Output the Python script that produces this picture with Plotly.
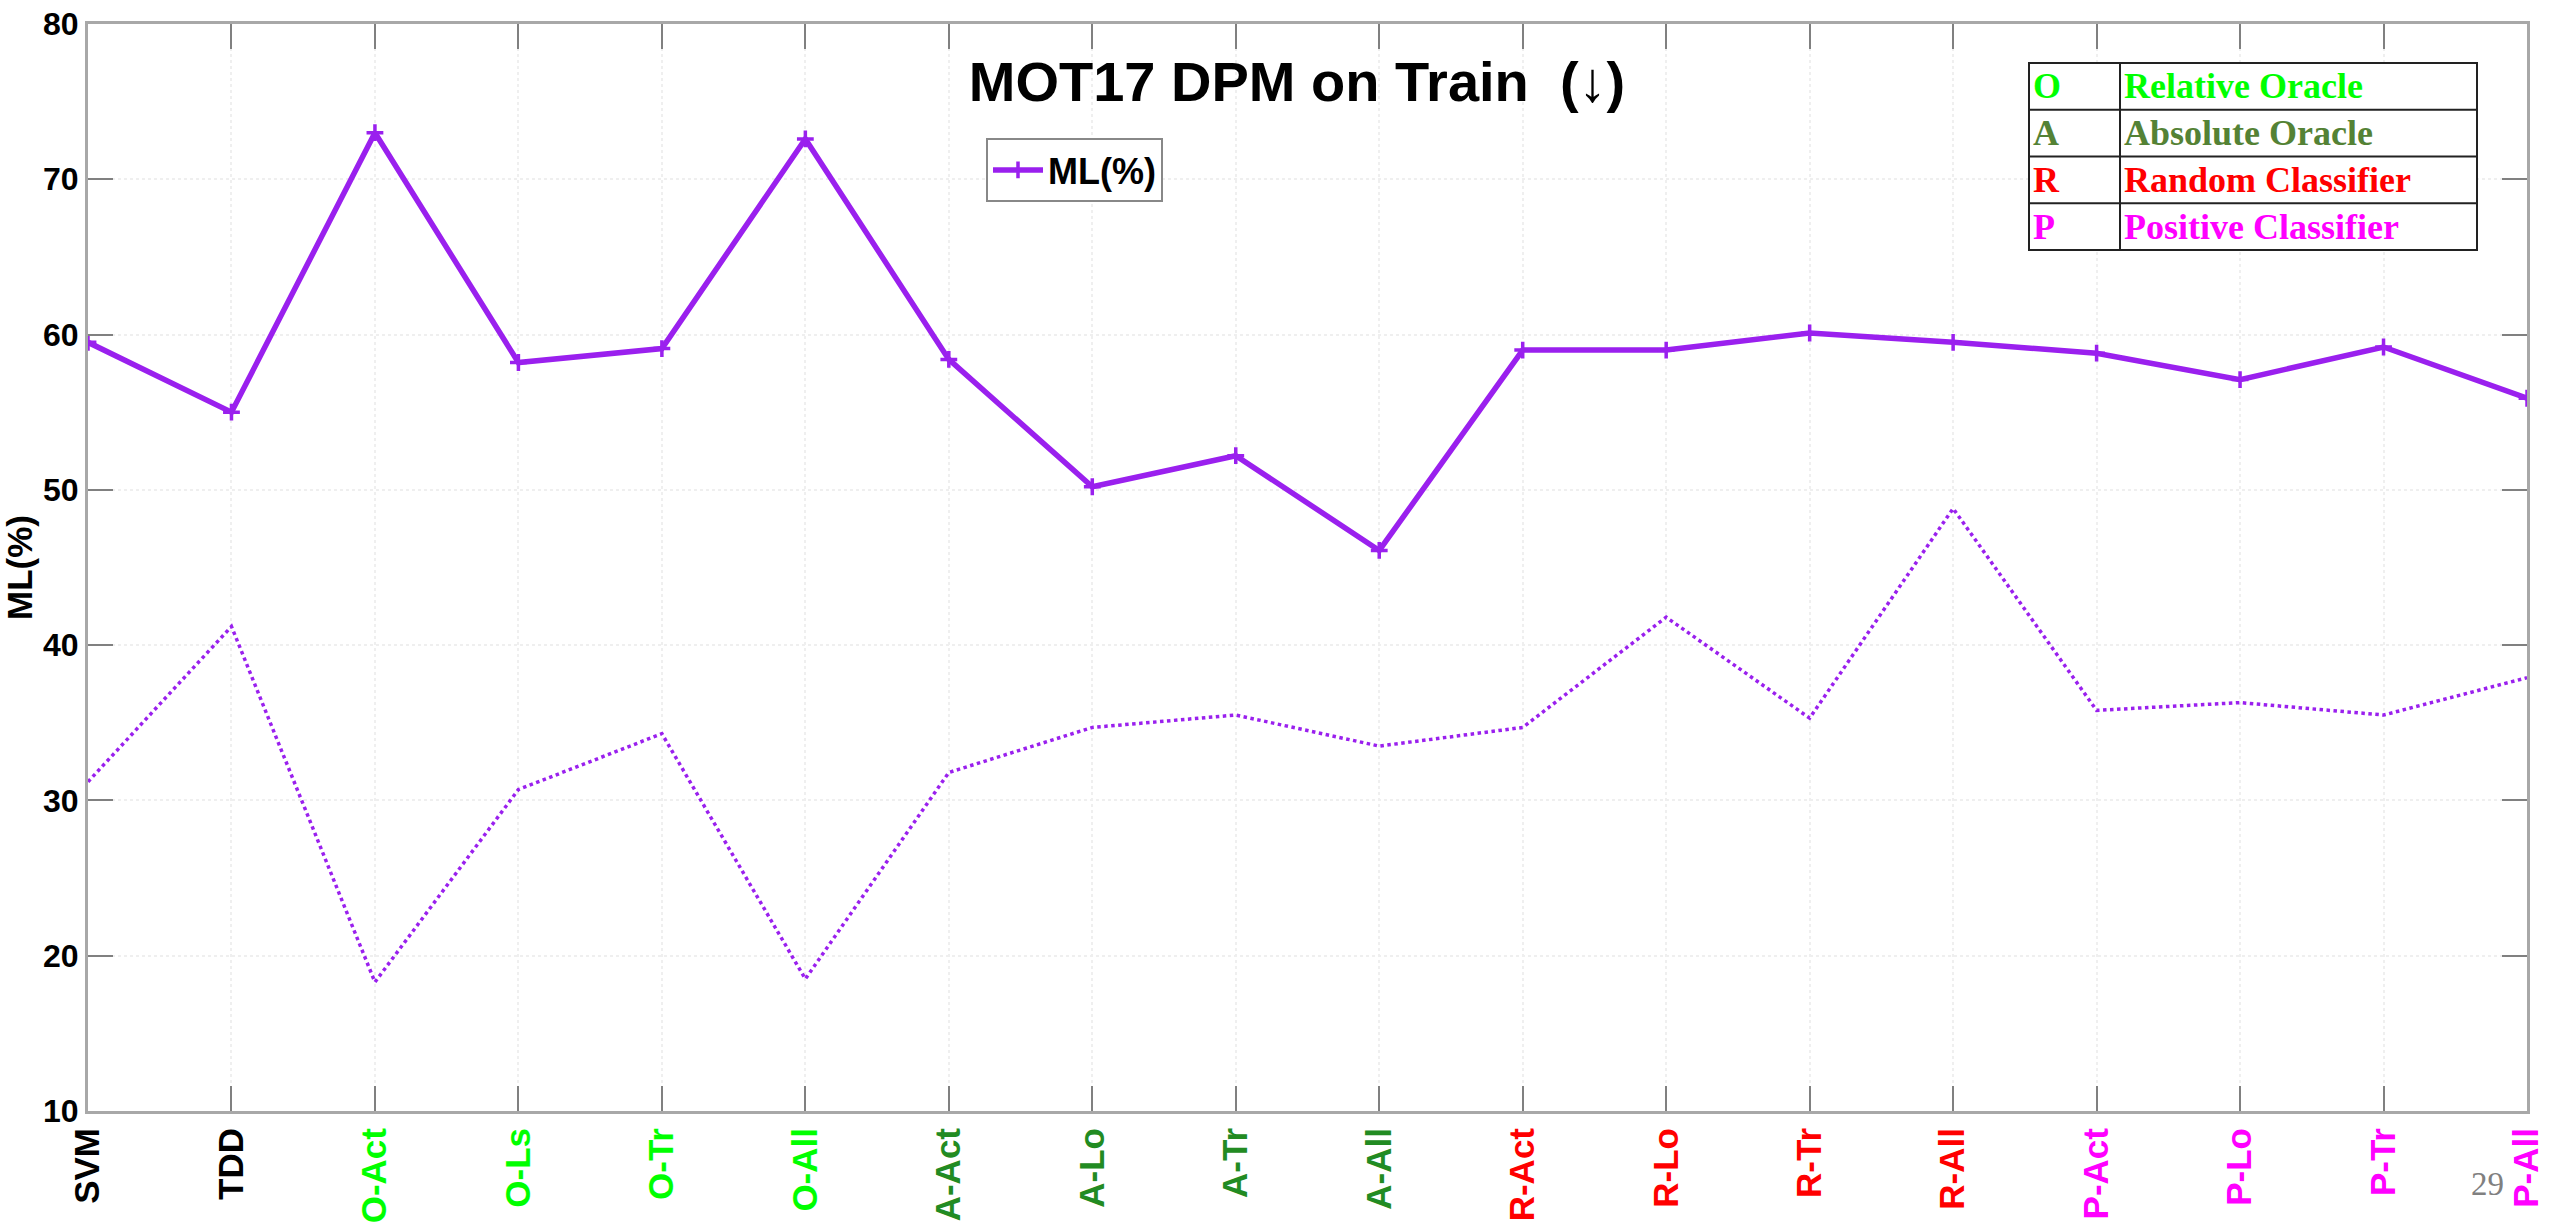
import plotly.graph_objects as go

# ---------------- data ----------------
categories = ["SVM", "TDD", "O-Act", "O-Ls", "O-Tr", "O-All", "A-Act", "A-Lo", "A-Tr",
              "A-All", "R-Act", "R-Lo", "R-Tr", "R-All", "P-Act", "P-Lo", "P-Tr", "P-All"]
category_colors = ["#000000", "#000000"] + ["#00ff00"] * 4 + ["#228b22"] * 4 + \
                  ["#ff0000"] * 4 + ["#ff00ff"] * 4
ml_solid = [59.5, 55.0, 73.0, 58.2, 59.1, 72.6, 58.4, 50.2, 52.2, 46.1,
            59.0, 59.0, 60.1, 59.5, 58.8, 57.1, 59.2, 55.9]
ml_dotted = [31.2, 41.2, 18.3, 30.7, 34.3, 18.5, 31.8, 34.7, 35.5, 33.5,
             34.7, 41.8, 35.3, 48.8, 35.8, 36.3, 35.5, 37.9]
y_ticks = [10, 20, 30, 40, 50, 60, 70, 80]

table_keys = ["O", "A", "R", "P"]
table_names = ["Relative Oracle", "Absolute Oracle", "Random Classifier", "Positive Classifier"]
table_colors = ["#00ff00", "#548235", "#ff0000", "#ff00ff"]

# ---------------- layout geometry (pixels) ----------------
W, H = 2554, 1223
L, R, T, B = 88, 27, 24, 112
PW = W - L - R
PH = H - T - B


def px(x):
    return (x - L) / PW


def py(y):
    return (H - B - y) / PH


PURPLE = "#9a20ee"
fig = go.Figure()

fig.add_trace(go.Scatter(
    x=list(range(len(categories))), y=ml_dotted, mode="lines",
    line=dict(color=PURPLE, width=3.5, dash="dot"), showlegend=False))

fig.add_trace(go.Scatter(
    x=list(range(len(categories))), y=ml_solid, mode="lines+markers", name="ML(%)",
    line=dict(color=PURPLE, width=5.5),
    marker=dict(symbol="cross-thin", size=12, line=dict(width=3.5, color=PURPLE), color=PURPLE)))

ticktext = [f'<span style="color:{c}">{t}</span>' for t, c in zip(categories, category_colors)]

fig.update_xaxes(
    range=[0, len(categories) - 1], tickmode="array", automargin=False,
    tickvals=list(range(len(categories))), ticktext=ticktext, tickangle=-90,
    tickfont=dict(family="Liberation Sans, Arial", size=35, weight="bold"),
    showline=True, linecolor="#a8a8a8", linewidth=3, mirror="ticks",
    ticks="inside", ticklen=25, tickwidth=2, tickcolor="#808080",
    showgrid=True, gridcolor="#efefef", gridwidth=1.5, griddash="dot", zeroline=False)

fig.update_yaxes(
    range=[10, 80], tickmode="array", tickvals=y_ticks, automargin=False,
    tickfont=dict(family="Liberation Sans, Arial", size=32, weight="bold", color="#000"),
    title=dict(text="ML(%)", font=dict(family="Liberation Sans, Arial", size=35,
                                        weight="bold", color="#000"), standoff=4),
    showline=True, linecolor="#a8a8a8", linewidth=3, mirror="ticks",
    ticks="inside", ticklen=25, tickwidth=2, tickcolor="#808080",
    showgrid=True, gridcolor="#efefef", gridwidth=1.5, griddash="dot", zeroline=False)

shapes = []
tx0, tx1, tdiv = 2029, 2477, 2120
ty0, ty1 = 63, 250
rh = (ty1 - ty0) / 4
shapes.append(dict(type="rect", xref="paper", yref="paper", x0=px(tx0), x1=px(tx1),
                   y0=py(ty1), y1=py(ty0), line=dict(color="#222", width=2),
                   fillcolor="white", layer="above"))
shapes.append(dict(type="line", xref="paper", yref="paper", x0=px(tdiv), x1=px(tdiv),
                   y0=py(ty1), y1=py(ty0), line=dict(color="#222", width=2)))
for i in range(1, 4):
    yy = py(ty0 + i * rh)
    shapes.append(dict(type="line", xref="paper", yref="paper", x0=px(tx0), x1=px(tx1),
                       y0=yy, y1=yy, line=dict(color="#222", width=2)))

annotations = []
for i, (k, n, c) in enumerate(zip(table_keys, table_names, table_colors)):
    yc = py(ty0 + (i + 0.5) * rh)
    annotations.append(dict(xref="paper", yref="paper", x=px(tx0 + 2), y=yc, text=k,
                            showarrow=False, xanchor="left", yanchor="middle",
                            font=dict(family="Liberation Serif, Times New Roman", size=36,
                                      weight="bold", color=c)))
    annotations.append(dict(xref="paper", yref="paper", x=px(tdiv + 2), y=yc, text=n,
                            showarrow=False, xanchor="left", yanchor="middle",
                            font=dict(family="Liberation Serif, Times New Roman", size=36,
                                      weight="bold", color=c)))

annotations.append(dict(xref="paper", yref="paper", x=px(2487), y=py(1184), text="29",
                        showarrow=False, xanchor="center", yanchor="middle",
                        font=dict(family="Liberation Serif, Times New Roman", size=33,
                                  color="#808080")))

fig.update_layout(
    width=W, height=H,
    margin=dict(l=L, r=R, t=T, b=B, autoexpand=False),
    paper_bgcolor="white", plot_bgcolor="white",
    title=dict(text="MOT17 DPM on Train  (\u2193)", x=px(1297), xref="paper", xanchor="center",
               y=1 - 81 / H, yref="container", yanchor="middle",
               font=dict(family="Liberation Sans, Arial", size=56, weight="bold", color="#000")),
    legend=dict(x=px(986), y=py(138), xanchor="left", yanchor="top", itemwidth=50,
                bgcolor="white", bordercolor="#888", borderwidth=2,
                font=dict(family="Liberation Sans, Arial", size=36, weight="bold", color="#000")),
    shapes=shapes, annotations=annotations,
)

fig.write_html("out.html", config={"displayModeBar": False},
               post_script="document.body.style.margin='0';document.body.style.overflow='hidden';")
